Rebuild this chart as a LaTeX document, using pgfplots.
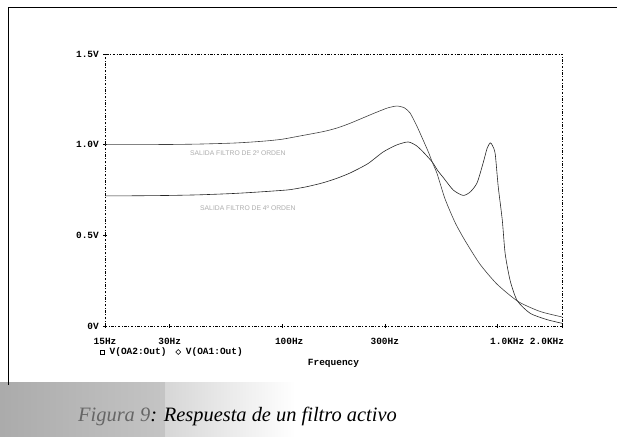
\documentclass[border=0pt]{standalone}
\usepackage{fontspec}
\usepackage{pgfplots}
\usepackage{pgfplotstable}
\pgfplotsset{compat=1.18}
\newfontfamily\psfont{Liberation Mono}
\newfontfamily\lblfont{Liberation Sans}
\newfontfamily\capfont{Liberation Serif}

% 2nd-order filter output
\pgfplotstableread{
f v
15 1.000
20 1.000
30 1.001
40 1.003
50 1.006
60 1.009
71 1.014
85 1.021
100 1.030
121 1.048
155 1.072
180 1.092
207 1.118
240 1.150
276 1.180
310 1.203
342 1.213
370 1.203
393 1.175
420 1.110
452 1.026
480 0.955
498 0.905
525 0.840
572 0.700
637 0.570
709 0.470
832 0.340
999 0.230
1251 0.135
1583 0.080
2000 0.050
}\ordertwo

% 4th-order filter output
\pgfplotstableread{
f v
15 0.718
20 0.718
25 0.719
30 0.720
40 0.723
50 0.727
60 0.731
71 0.736
85 0.742
100 0.748
109 0.752
130 0.768
155 0.790
180 0.815
207 0.844
250 0.895
295 0.960
340 0.998
385 1.015
420 0.995
452 0.960
498 0.905
530 0.855
560 0.820
624 0.750
694 0.720
750 0.740
806 0.790
860 0.900
897 0.980
927 1.010
950 0.995
978 0.950
1010 0.770
1055 0.585
1088 0.400
1148 0.250
1238 0.140
1422 0.070
1705 0.035
2000 0.015
}\orderfour

\begin{document}
\begin{tikzpicture}
\path[use as bounding box] (0bp,0bp) rectangle (617bp,442bp);
% caption strip
\shade[left color=gray!66, right color=gray!46] (0bp,5bp) rectangle (165bp,59bp);
\shade[left color=gray!32, right color=white] (165bp,5bp) rectangle (295bp,59bp);
\draw[line width=1bp] (8bp,57bp) -- (8bp,434bp) -- (617bp,434bp);
\node[anchor=base west, inner sep=0pt, font=\capfont\itshape\fontsize{20.5}{23}\selectfont] at (78bp,21bp)
  {\textcolor{gray!80!black}{Figura 9}: Respuesta de un filtro activo};

\begin{axis}[
  at={(105bp,116bp)}, anchor=south west,
  scale only axis, width=457bp, height=272bp,
  xmode=log, xmin=15, xmax=2000, ymin=0, ymax=1.5,
  axis line style={line width=0.6bp, dash pattern=on 2.5bp off 1.5bp on 1bp off 1.5bp},
  xtick={15,30,100,300,1000,2000},
  xticklabels={15Hz,30Hz,\hspace*{14bp}100Hz,300Hz,\hspace*{20bp}1.0KHz,2.0KHz\hspace*{30bp}},
  ytick={0,0.5,1,1.5},
  yticklabels={0V,0.5V,1.0V,1.5V},
  xtick pos=left, ytick pos=left,
  tick align=center, major tick length=4bp,
  tick style={black, line width=0.5bp, solid},
  xminorticks=false, yminorticks=false,
  tick label style={font=\psfont\bfseries\fontsize{9.5}{10}\selectfont},
  xticklabel style={anchor=base, yshift=-17bp, inner sep=0pt},
  yticklabel style={anchor=east, xshift=-4bp, inner sep=0pt},
  xlabel={Frequency},
  xlabel style={at={(axis description cs:0.5,-0.136)}, anchor=center, font=\psfont\bfseries\fontsize{9.5}{10}\selectfont},
  legend style={at={(axis description cs:-0.011,-0.0956)}, anchor=west, draw=none, fill=none,
    font=\psfont\bfseries\fontsize{9.5}{10}\selectfont, inner sep=0pt,
    /tikz/every odd column/.append style={column sep=3bp},
    /tikz/every even column/.append style={column sep=7bp}},
  legend columns=-1, legend cell align=left,
]
\addplot[black!85, line width=0.6bp, smooth, tension=0.4,
  legend image code/.code={\draw[line width=0.5bp, black] (0bp,-2bp) rectangle (4bp,2bp);}]
  table[x=f, y=v] {\orderfour};
\addlegendentry{V(OA2:Out)}
\addplot[black!75, line width=0.6bp, smooth, tension=0.4,
  legend image code/.code={\draw[line width=0.5bp, black] (2bp,-2.5bp) -- (4.5bp,0bp) -- (2bp,2.5bp) -- (-0.5bp,0bp) -- cycle;}]
  table[x=f, y=v] {\ordertwo};
\addlegendentry{V(OA1:Out)}
\end{axis}

\node[anchor=west, inner sep=0pt, text=gray!65, font=\lblfont\fontsize{6.8}{7}\selectfont] at (190bp,289bp) {SALIDA FILTRO DE 2º ORDEN};
\node[anchor=west, inner sep=0pt, text=gray!65, font=\lblfont\fontsize{6.8}{7}\selectfont] at (200bp,234bp) {SALIDA FILTRO DE 4º ORDEN};
\end{tikzpicture}
\end{document}
